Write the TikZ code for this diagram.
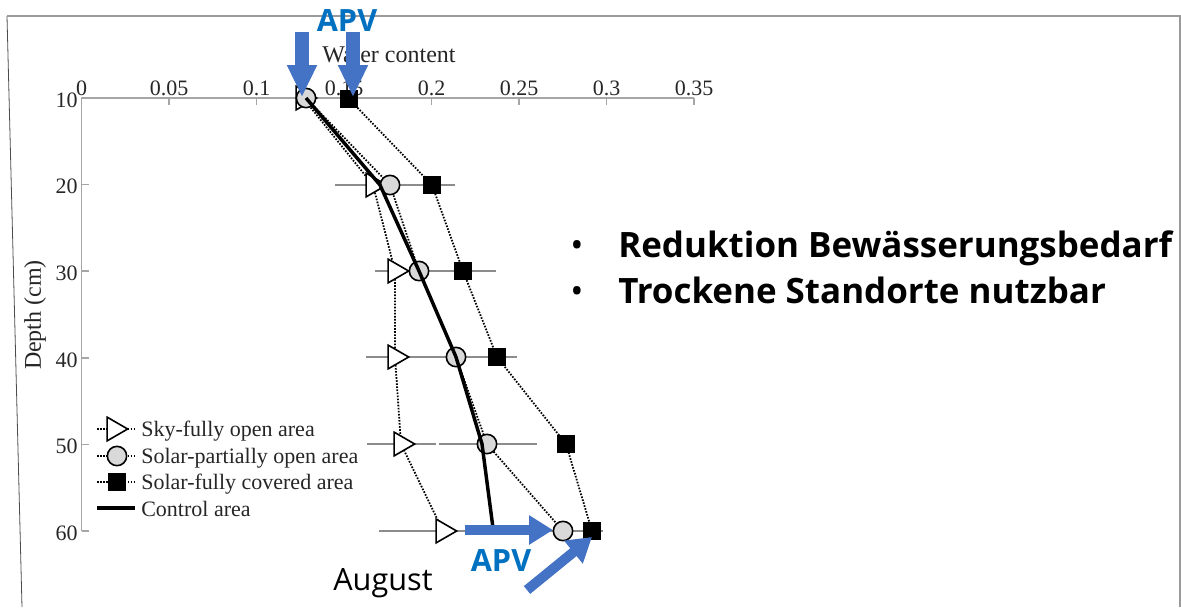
\documentclass[tikz,border=0pt]{standalone}
\usepackage{fontspec}
\setmainfont{Liberation Serif}
\newfontfamily\osans{Open Sans}
\usetikzlibrary{arrows.meta,shapes.geometric}
\definecolor{apvblue}{HTML}{4472C4}
\definecolor{apvtext}{HTML}{0070C0}
\definecolor{framegray}{HTML}{9A9A9A}
\definecolor{axisgray}{HTML}{A6A6A6}
\definecolor{fillgray}{HTML}{D9D9D9}
\definecolor{errgray}{HTML}{8C8C8C}
\pgfdeclarelayer{fg}
\pgfdeclarelayer{top}
\pgfsetlayers{main,fg,top}
\begin{document}
\begin{tikzpicture}[x=0.75pt,y=-0.75pt,
  tri/.style={regular polygon,regular polygon sides=3,shape border rotate=-90,
    minimum size=20.5pt,inner sep=0pt,outer sep=0pt,draw=black,fill=white,line width=1.2pt},
  circ/.style={circle,minimum size=14.5pt,inner sep=0pt,outer sep=0pt,draw=black,fill=fillgray,line width=1.2pt},
  sq/.style={rectangle,minimum size=12.5pt,inner sep=0pt,outer sep=0pt,draw=black,fill=black,line width=0.6pt},
  dotline/.style={line width=1.35pt,dash pattern=on 1.2pt off 1.1pt,black},
  ctrl/.style={line width=2.6pt,black},
  errbar/.style={line width=0.8pt,errgray},
  axisline/.style={line width=1.1pt,axisgray},
  ticklab/.style={font=\fontsize{16.5}{18}\selectfont,text=black!85,inner sep=0pt},
  legtext/.style={font=\fontsize{16.5}{18}\selectfont,text=black!85,inner sep=0pt,anchor=base west},
  bluearrow/.style={apvblue,line width=10.5pt,-{Triangle[width=21pt,length=24pt]}},
  bluearrowb/.style={apvblue,line width=7.5pt,-{Triangle[width=21pt,length=18pt]}},
  apv/.style={font=\osans\bfseries\fontsize{23}{26}\selectfont,text=apvtext,inner sep=0pt},
  bullettext/.style={font=\osans\bfseries\fontsize{26.2}{30}\selectfont,text=black,inner sep=0pt,anchor=base west},
  bulletdot/.style={font=\osans\fontsize{26.2}{30}\selectfont,text=black,inner sep=0pt,anchor=base}
]
\useasboundingbox (0,0) rectangle (1181,607);

% frame
\coordinate (fl1) at (7,16);
\coordinate (fl2) at (22,607);
\coordinate (ft2) at (1180,16);
\coordinate (fr2) at (1180,607);
\draw[line width=0.6pt,black!70] (fl1) -- (fl2);
\draw[line width=1.5pt,framegray] (fl1) -- (ft2) -- (fr2);

% axes
\coordinate (O) at (81.7,98);
\coordinate (xend) at (694.2,98);
\coordinate (yend) at (81.7,531);
\draw[axisline] (yend) -- (O) -- (xend);
\foreach \v/\l in {0/0,1/0.05,2/0.1,3/0.15,4/0.2,5/0.25,6/0.3,7/0.35}{
  \coordinate (xt\v) at ({81.7+87.5*\v},98);
  \draw[axisline] (xt\v) -- ++(0,7);
  \node[ticklab,anchor=base] (xl\v) at ({81.7+87.5*\v},95) {\l};
}
\foreach \d [count=\i from 0] in {10,20,30,40,50,60}{
  \coordinate (yt\d) at (81.7,{98+86.6*\i});
  \draw[axisline] (yt\d) -- ++(7,0);
  \node[ticklab,anchor=east] (yl\d) at (78,{100+86.6*\i}) {\d};
}
\node[font=\fontsize{18}{20}\selectfont,text=black!85,anchor=base west,inner sep=0pt] (xtitle) at (322,62) {Water content};
\node[font=\fontsize{18}{20}\selectfont,text=black!85,rotate=90,inner sep=0pt] (ytitle) at (35,315) {Depth (cm)};

% error bars
\coordinate (e20a) at (335,185); \coordinate (e20b) at (455,185);
\coordinate (e30a) at (375,271); \coordinate (e30b) at (496,271);
\coordinate (e40a) at (366,357); \coordinate (e40b) at (517,357);
\coordinate (e50a) at (367,444); \coordinate (e50b) at (436,444);
\coordinate (e50c) at (439,444); \coordinate (e50d) at (537,444);
\coordinate (e60a) at (379,531); \coordinate (e60b) at (603,531);
\draw[errbar] (e20a) -- (e20b);
\draw[errbar] (e30a) -- (e30b);
\draw[errbar] (e40a) -- (e40b);
\draw[errbar] (e50a) -- (e50b);
\draw[errbar] (e50c) -- (e50d);
\draw[errbar] (e60a) -- (e60b);

% markers
\begin{pgfonlayer}{fg}
\node[tri] (t10) at (303,98) {};
\node[tri] (t20) at (373,185) {};
\node[tri] (t30) at (395,271) {};
\node[tri] (t40) at (395,357) {};
\node[tri] (t50) at (401,444) {};
\node[tri] (t60) at (443,531) {};
\node[circ] (c10) at (306,98) {};
\node[circ] (c20) at (390,185) {};
\node[circ] (c30) at (419,271) {};
\node[circ] (c40) at (456,357) {};
\node[circ] (c50) at (487,444) {};
\node[circ] (c60) at (563,531) {};
\node[sq] (s10) at (349,99) {};
\node[sq] (s20) at (432,185) {};
\node[sq] (s30) at (463,271) {};
\node[sq] (s40) at (497,357) {};
\node[sq] (s50) at (566,444) {};
\node[sq] (s60) at (592,531) {};
% legend markers
\node[tri] (lt) at (114,429) {};
\node[circ] (lc) at (117,456) {};
\node[sq] (ls) at (117,482) {};
\end{pgfonlayer}

% series lines
\draw[dotline] (t10.center) -- (t20.center) -- (t30.center) -- (t40.center) -- (t50.center) -- (t60.center);
\draw[dotline] (c10.center) -- (c20.center) -- (c30.center) -- (c40.center) -- (c50.center) -- (c60.center);
\draw[dotline] (s10.center) -- (s20.center) -- (s30.center) -- (s40.center) -- (s50.center) -- (s60.center);

% legend lines
\coordinate (lta) at (97,429); \coordinate (ltb) at (136,429);
\coordinate (lca) at (97,456); \coordinate (lcb) at (136,456);
\coordinate (lsa) at (97,482); \coordinate (lsb) at (136,482);
\coordinate (lka) at (97,508); \coordinate (lkb) at (135,508);
\draw[dotline] (lta) -- (ltb);
\draw[dotline] (lca) -- (lcb);
\draw[dotline] (lsa) -- (lsb);
\node[legtext] (lt1) at (141,436) {Sky-fully open area};
\node[legtext] (lt2) at (141,463) {Solar-partially open area};
\node[legtext] (lt3) at (141,489) {Solar-fully covered area};
\node[legtext] (lt4) at (141,516) {Control area};

\begin{pgfonlayer}{top}
% control line
\coordinate (k20) at (380,185);
\coordinate (k30) at (419,271);
\coordinate (k40) at (456,357);
\coordinate (k50) at (482,444);
\coordinate (k60) at (493,528);
\draw[ctrl] (c10.center) -- (k20) -- (k30) -- (k40) -- (k50) -- (k60);
\draw[ctrl] (lka) -- (lkb);

% blue arrows
\coordinate (a1s) at (302,32); \coordinate (a1e) at (302,97);
\coordinate (a2s) at (353,32); \coordinate (a2e) at (353,97);
\coordinate (a3s) at (465,530); \coordinate (a3e) at (553,530);
\coordinate (a4s) at (527,590); \coordinate (a4e) at (592,537);
\draw[bluearrow] (a1s) -- (a1e);
\draw[bluearrow] (a2s) -- (a2e);
\draw[bluearrowb] (a3s) -- (a3e);
\draw[bluearrowb] (a4s) -- (a4e);
\node[apv] (apvtop) at (347,21) {APV};
\node[apv] (apvbot) at (501,560) {APV};
\node[font=\osans\fontsize{23}{26}\selectfont,anchor=base west,inner sep=0pt] (aug) at (333,590) {August};
\end{pgfonlayer}

% bullet text
\node[bulletdot] (b1) at (577,257) {•};
\node[bulletdot] (b2) at (577,303) {•};
\node[bullettext] (bt1) at (618,257) {Reduktion Bewässerungsbedarf};
\node[bullettext] (bt2) at (618,303) {Trockene Standorte nutzbar};
\end{tikzpicture}
\end{document}
